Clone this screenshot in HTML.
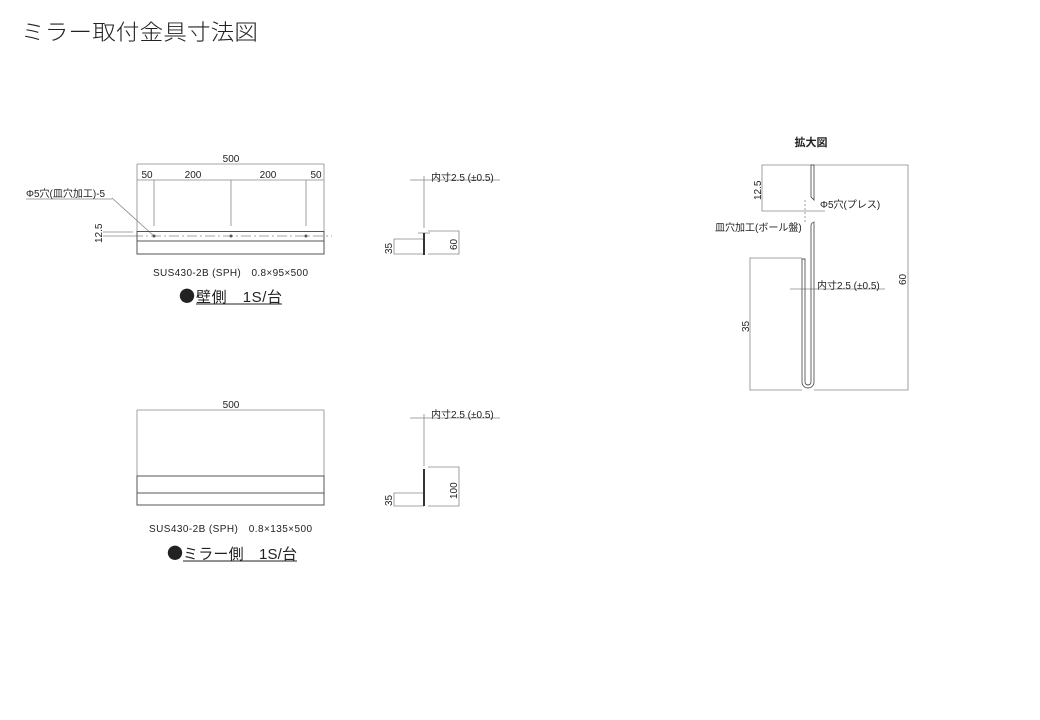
<!DOCTYPE html>
<html><head><meta charset="utf-8"><style>
html,body{margin:0;padding:0;background:#fff;}
svg{display:block;font-family:"Liberation Sans","Noto Sans CJK JP",sans-serif;}
</style></head><body>
<svg width="1040" height="720" viewBox="0 0 1040 720" xmlns="http://www.w3.org/2000/svg">
<text x="21" y="40" font-size="22" fill="#222" textLength="237" lengthAdjust="spacingAndGlyphs" font-weight="300">ミラー取付金具寸法図</text>

<g stroke="#888" stroke-width="0.8" fill="none">
<line x1="137" y1="164" x2="324" y2="164"/>
<line x1="137" y1="164" x2="137" y2="231"/>
<line x1="324" y1="164" x2="324" y2="231"/>
<line x1="137" y1="180" x2="324" y2="180"/>
<line x1="154" y1="180" x2="154" y2="226"/>
<line x1="231" y1="180" x2="231" y2="226"/>
<line x1="306" y1="180" x2="306" y2="226"/>
<line x1="112" y1="198" x2="154" y2="236"/>
<line x1="26" y1="199" x2="112" y2="199"/>
<line x1="103" y1="232" x2="133" y2="232"/>
<line x1="103" y1="236" x2="133" y2="236"/>
<line x1="133" y1="236" x2="332" y2="236" stroke-dasharray="10,3,2,3"/>
<line x1="410" y1="180" x2="500" y2="180"/>
<line x1="424" y1="176" x2="424" y2="228"/>
<line x1="418" y1="233" x2="430" y2="233"/>
<polyline points="394,239 424,239"/><polyline points="394,239 394,254 424,254"/>
<polyline points="428,231 459,231 459,254 428,254"/>
<line x1="137" y1="410" x2="324" y2="410"/>
<line x1="137" y1="410" x2="137" y2="476"/>
<line x1="324" y1="410" x2="324" y2="476"/>
<line x1="410" y1="418" x2="500" y2="418"/>
<line x1="424" y1="414" x2="424" y2="466"/>
<polyline points="428,467 459,467 459,506 428,506"/>
<polyline points="424,493 394,493 394,506 424,506"/>
<polyline points="814,165 908,165 908,390 814,390"/>
<polyline points="811,165 762,165 762,211 825,211"/>
<polyline points="802,258 750,258 750,390 802,390"/>
<line x1="790" y1="289" x2="885" y2="289"/>
<line x1="805" y1="200" x2="805" y2="223" stroke-dasharray="2,2"/>
</g>
<g stroke="#555" stroke-width="1" fill="none">
<rect x="137" y="231.5" width="187" height="22.5"/>
<line x1="137" y1="241" x2="324" y2="241"/>
<rect x="137" y="476" width="187" height="29"/>
<line x1="137" y1="493" x2="324" y2="493"/>
</g>
<g fill="#555"><circle cx="154" cy="236" r="1.5"/><circle cx="231" cy="236" r="1.5"/><circle cx="306" cy="236" r="1.5"/></g>
<g stroke="#333" stroke-width="2" fill="none">
<line x1="424" y1="233" x2="424" y2="255"/>
<line x1="424" y1="469" x2="424" y2="506"/>
</g>
<g stroke="#555" stroke-width="0.9" fill="none">
<path d="M811,165 L811,197 L814,200 L814,165 Z"/>
<path d="M811,226 Q811,223 814,222 L814,382 A6,6 0 0 1 802,382 L802,259 L805,259 L805,382 A3,3 0 0 0 811,382 Z"/>
</g>

<g font-size="10" fill="#222">
<text x="231" y="162" text-anchor="middle">500</text>
<text x="147" y="178" text-anchor="middle">50</text>
<text x="193" y="178" text-anchor="middle">200</text>
<text x="268" y="178" text-anchor="middle">200</text>
<text x="316" y="178" text-anchor="middle">50</text>
<text x="26" y="197">Φ5穴(皿穴加工)-5</text>
<text transform="translate(102,243) rotate(-90)">12.5</text>
<text x="153" y="276" textLength="155" lengthAdjust="spacing">SUS430-2B (SPH)　0.8×95×500</text>
<text x="431" y="181">内寸2.5 (±0.5)</text>
<text transform="translate(392,254) rotate(-90)">35</text>
<text transform="translate(457,250) rotate(-90)">60</text>
<text x="231" y="408" text-anchor="middle">500</text>
<text x="149" y="532" textLength="163" lengthAdjust="spacing">SUS430-2B (SPH)　0.8×135×500</text>
<text x="431" y="418">内寸2.5 (±0.5)</text>
<text transform="translate(392,506) rotate(-90)">35</text>
<text transform="translate(457,499) rotate(-90)">100</text>
<text x="820" y="208">Φ5穴(プレス)</text>
<text x="715" y="231">皿穴加工(ボール盤)</text>
<text x="817" y="289">内寸2.5 (±0.5)</text>
<text transform="translate(906,285) rotate(-90)">60</text>
<text transform="translate(761,200) rotate(-90)">12.5</text>
<text transform="translate(749,332) rotate(-90)">35</text>
</g>
<text x="811" y="146" font-size="11" font-weight="bold" text-anchor="middle" fill="#222">拡大図</text>
<g font-size="15" fill="#222">
<text x="179" y="302" font-family="Noto Sans CJK JP, sans-serif" font-size="16">●</text>
<text x="196" y="302" textLength="86" lengthAdjust="spacing">壁側　1S/台</text>
<line x1="196" y1="304" x2="282" y2="304" stroke="#222" stroke-width="1"/>
<text x="167" y="559" font-family="Noto Sans CJK JP, sans-serif" font-size="16">●</text>
<text x="183" y="559" textLength="114" lengthAdjust="spacing">ミラー側　1S/台</text>
<line x1="183" y1="561" x2="297" y2="561" stroke="#222" stroke-width="1"/>
</g>
</svg>
</body></html>
